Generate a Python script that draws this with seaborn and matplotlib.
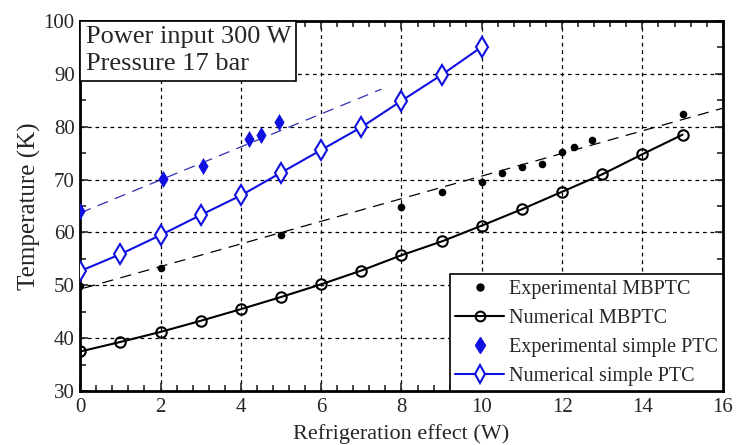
import matplotlib
matplotlib.use("Agg")
import matplotlib.pyplot as plt
from matplotlib.offsetbox import AnchoredText
from matplotlib.ticker import MultipleLocator
from matplotlib.lines import Line2D
import pandas as pd
import seaborn as sns

# Numerical MBPTC (open circles, solid black)
num_mb_x = [0, 1, 2, 3, 4, 5, 6, 7, 8, 9, 10, 11, 12, 13, 14, 15]
num_mb_y = [37.5, 39.3, 41.2, 43.3, 45.5, 47.8, 50.2, 52.8, 55.7, 58.3,
            61.3, 64.4, 67.7, 71.0, 74.8, 78.5]

# Experimental MBPTC (filled dots)
exp_mb_x = [0, 2, 5, 8, 9, 10, 10.5, 11, 11.5, 12, 12.3, 12.75, 15]
exp_mb_y = [49.8, 53.3, 59.5, 64.9, 67.6, 69.6, 71.3, 72.3, 73.0, 75.3, 76.2, 77.4, 82.4]

# Numerical simple PTC (open diamonds, solid blue)
num_sp_x = [0, 1, 2, 3, 4, 5, 6, 7, 8, 9, 10]
num_sp_y = [52.7, 55.9, 59.5, 63.3, 67.0, 71.3, 75.6, 79.9, 84.9, 89.8, 95.1]

# Experimental simple PTC (filled diamonds)
exp_sp_x = [0, 2.05, 3.05, 4.2, 4.5, 4.95]
exp_sp_y = [64.0, 70.1, 72.6, 77.6, 78.4, 80.9]

# dashed trend lines through the experiments
fit_mb_x = [0.1, 16]
fit_mb_y = [49.5, 83.5]
fit_sp_x = [0, 7.5]
fit_sp_y = [63.7, 87.1]

BLUE = "#1010e0"

sns.set_style("ticks")
plt.rcParams["font.family"] = ["Liberation Serif", "DejaVu Serif"]

fig = plt.figure(figsize=(7.36, 4.45), dpi=100)
ax = fig.add_axes([0.109, 0.121, 0.873, 0.832])

# trend lines
sns.lineplot(x=fit_mb_x, y=fit_mb_y, ax=ax, color="black", lw=0.9,
             linestyle=(0, (9, 6)), zorder=2)
sns.lineplot(x=fit_sp_x, y=fit_sp_y, ax=ax, color="#3030b0", lw=0.9,
             linestyle=(0, (9, 6)), zorder=2)

# numerical curves
sns.lineplot(data=pd.DataFrame({"x": num_mb_x, "y": num_mb_y}), x="x", y="y",
             ax=ax, color="black", lw=1.5, marker="o", markersize=7.5,
             markerfacecolor="none", markeredgecolor="black",
             markeredgewidth=1.5, zorder=3)
sns.lineplot(data=pd.DataFrame({"x": num_sp_x, "y": num_sp_y}), x="x", y="y",
             ax=ax, color=BLUE, lw=1.5, marker="d", markersize=10.5,
             markerfacecolor="white", markeredgecolor=BLUE,
             markeredgewidth=1.5, zorder=3)

# experiments
sns.scatterplot(x=exp_mb_x, y=exp_mb_y, ax=ax, color="black", s=30,
                marker="o", edgecolor="black", linewidth=0, zorder=4)
sns.scatterplot(x=exp_sp_x, y=exp_sp_y, ax=ax, color=BLUE, s=75,
                marker="d", edgecolor=BLUE, linewidth=0, zorder=4)

ax.set_xlim(0, 16)
ax.set_ylim(30, 100)
ax.xaxis.set_major_locator(MultipleLocator(2))
ax.xaxis.set_minor_locator(MultipleLocator(0.4))
ax.yaxis.set_major_locator(MultipleLocator(10))
ax.yaxis.set_minor_locator(MultipleLocator(5))
ax.tick_params(which="both", direction="in", top=True, right=True,
               labelsize=15, width=1.2)
ax.tick_params(which="major", length=6)
ax.tick_params(which="minor", length=4)
ax.tick_params(axis="x", pad=5)
ax.tick_params(axis="y", pad=4)
for sp in ax.spines.values():
    sp.set_linewidth(2)
    sp.set_color("black")

ax.grid(True, which="major", color="black", linestyle=(0, (3, 3)), lw=0.9)

ax.set_xlabel("Refrigeration effect (W)", fontsize=16, labelpad=5)
ax.set_ylabel("Temperature (K)", fontsize=18, labelpad=2)

box = AnchoredText("Power input 300 W\nPressure 17 bar", loc="upper left",
                   pad=0.2, borderpad=0, frameon=True,
                   prop=dict(size=19, linespacing=1.3))
box.patch.set_edgecolor("black")
box.patch.set_linewidth(1.2)
box.zorder = 6
ax.add_artist(box)

handles = [
    Line2D([], [], color="black", marker="o", markersize=5, linestyle="none"),
    Line2D([], [], color="black", lw=1.5, marker="o", markersize=7,
           markerfacecolor="none", markeredgewidth=1.5),
    Line2D([], [], color=BLUE, marker="d", markersize=8, linestyle="none"),
    Line2D([], [], color=BLUE, lw=1.5, marker="d", markersize=9,
           markerfacecolor="white", markeredgewidth=1.5),
]
labels = ["Experimental MBPTC", "Numerical MBPTC",
          "Experimental simple PTC", "Numerical simple PTC"]
leg = ax.legend(handles, labels, loc="lower right", fontsize=14.5,
                frameon=True, fancybox=False, borderaxespad=0,
                handlelength=2.4, handletextpad=0.25, borderpad=0.25,
                labelspacing=0.5, framealpha=1)
leg.get_frame().set_edgecolor("black")
leg.get_frame().set_linewidth(1.2)
leg.set_zorder(7)

fig.savefig("out.png", dpi=100)
